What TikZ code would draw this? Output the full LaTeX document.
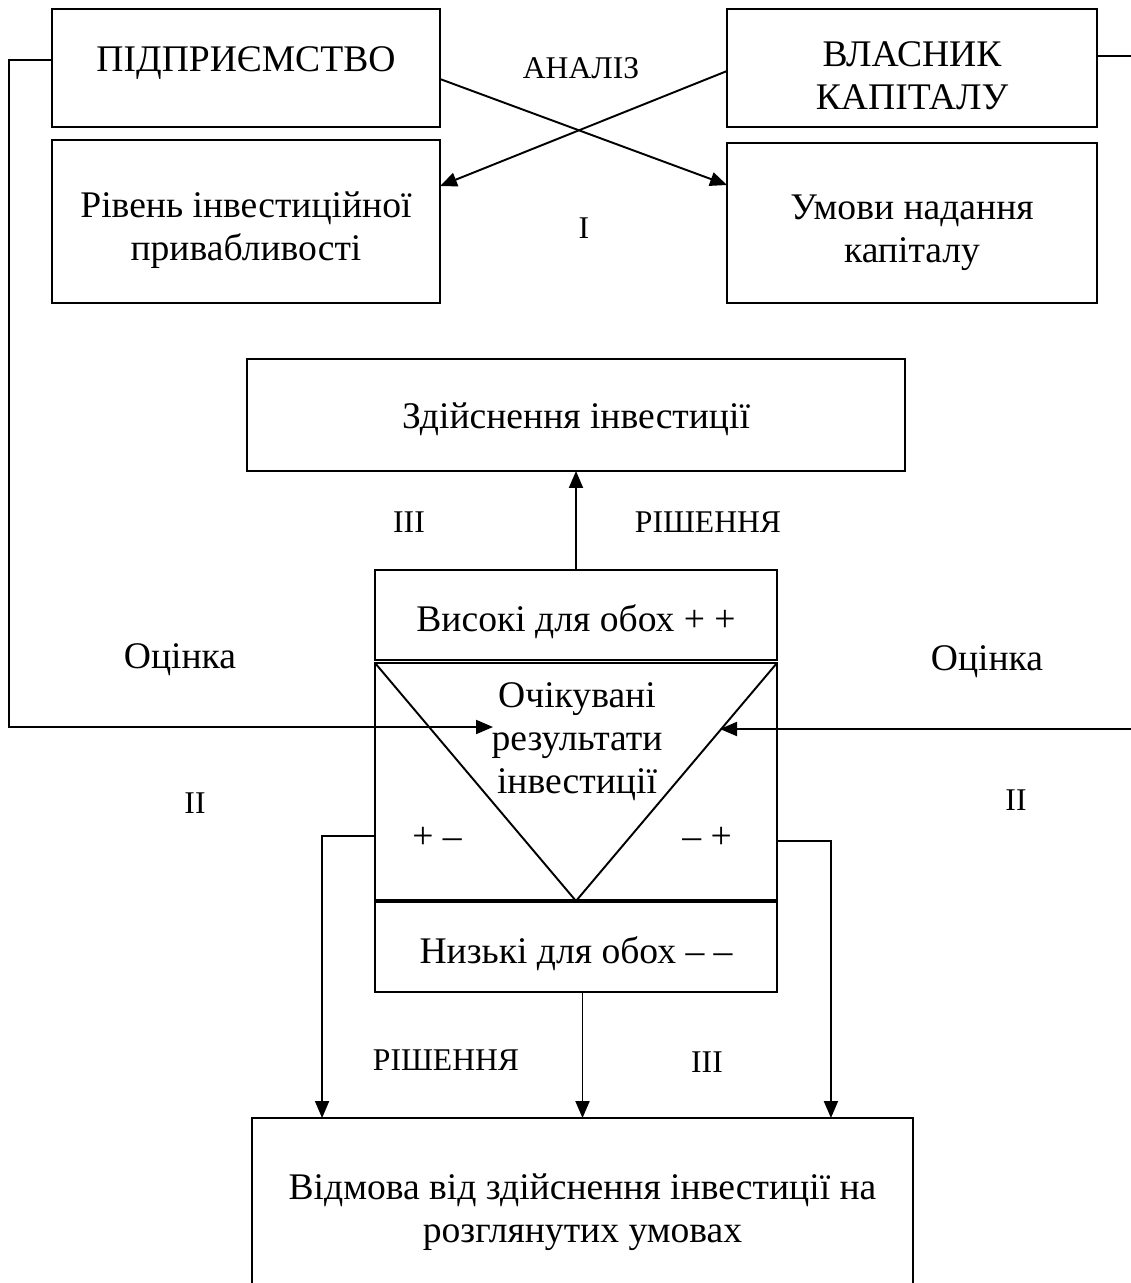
\documentclass[tikz,border=0pt]{standalone}
\usepackage{fontspec}
\setmainfont{Liberation Serif}
\usetikzlibrary{positioning, arrows.meta, calc}

\begin{document}
\begin{tikzpicture}[x=0.02cm,y=-0.02cm,>={Triangle[length=0.34cm,width=0.28cm]},line width=1.1pt]
\tikzstyle{box}=[rectangle,draw,inner sep=0pt,outer sep=0pt]
\tikzstyle{big}=[inner sep=0pt,align=center,font=\fontsize{21.4}{24.5}\selectfont]
\tikzstyle{tag}=[inner sep=0pt,font=\fontsize{18}{21}\selectfont]

\useasboundingbox (0,0) rectangle (1131,1283);
\clip (0,0) rectangle (1131,1283);

%--- stage I boxes ---
\node[box, minimum width=7.76cm, minimum height=2.36cm,
  label={[big,yshift=0.1cm]center:ПІДПРИЄМСТВО}] (firm) at (246,68) {};
\node[box, minimum width=7.4cm, minimum height=2.36cm,
  label={[big,yshift=-0.16cm]center:ВЛАСНИК\\КАПІТАЛУ}] (owner) at (912,68) {};
\node[box, minimum width=7.76cm, minimum height=3.26cm,
  label={[big,yshift=-0.18cm]center:Рівень інвестиційної\\привабливості}] (level) at (246,221.5) {};
\node[box, minimum width=7.4cm, minimum height=3.2cm,
  label={[big,yshift=-0.2cm]center:Умови надання\\капіталу}] (terms) at (912,223) {};

%--- stage II / III boxes ---
\node[box, minimum width=13.16cm, minimum height=2.24cm,
  label={[big,yshift=-0.08cm]center:Здійснення інвестиції}] (invest) at (576,415) {};
\node[box, minimum width=8.04cm, minimum height=1.8cm,
  label={[big,yshift=-0.14cm]center:Високі для обох + +}] (high) at (576,615) {};
\node[box, minimum width=8.04cm, minimum height=4.76cm] (mid) at (576,782) {};
\node[box, minimum width=8.04cm, minimum height=1.82cm,
  label={[big,yshift=-0.14cm]center:Низькі для обох – –}] (low) at (576,946.5) {};
\node[box, minimum width=13.22cm, minimum height=3.6cm,
  label={[big,yshift=-0.08cm]center:Відмова від здійснення інвестиції на\\розглянутих умовах}] (refuse) at (582.5,1208) {};
\draw[line width=2pt] (low.north west) -- (low.north east);

%--- triangle inside ---
\draw (mid.north west) -- (mid.south) -- (mid.north east);
\node[big] (expect) at (577,742) {Очікувані\\результати\\інвестиції};
\node[big] (pm) at (437,838) {+ –};
\node[big] (mp) at (707,838) {– +};

%--- labels ---
\node[tag] (analysis) at (581,68) {АНАЛІЗ};
\node[tag] (one) at (584,228) {I};
\node[tag] (threeup) at (409,522) {III};
\node[tag] (decisionup) at (708,522) {РІШЕННЯ};
\node[big] (evalleft) at (180,660) {Оцінка};
\node[big] (evalright) at (987,662) {Оцінка};
\node[tag] (twoleft) at (195,803) {II};
\node[tag] (tworight) at (1016,800) {II};
\node[tag] (decisiondown) at (446,1060) {РІШЕННЯ};
\node[tag] (threedown) at (707,1062) {III};

%--- coordinates ---
\coordinate (leftrail) at (9,727);
\coordinate (lefttip) at (493,727);
\coordinate (rightrail) at (1136,729);
\coordinate (righttip) at (720,729);

%--- analysis arrows ---
\draw[->] ([yshift=-0.22cm]firm.east) -- ([yshift=0.76cm]terms.west);
\draw[->] ([yshift=-0.06cm]owner.west) -- ([yshift=0.71cm]level.east);

%--- evaluation ---
\draw[->] ([yshift=0.16cm]firm.west) -| (leftrail) -- (lefttip);
\draw[->] ([yshift=0.24cm]owner.east) -| (rightrail) -- (righttip);

%--- decisions ---
\draw[->] (high.north) -- (high.north |- invest.south);
\draw[->] ([yshift=-1.08cm]mid.west) -| ($(refuse.north west)+(70,0)$);
\draw[->] ([yshift=-1.18cm]mid.east) -| ($(refuse.north east)+(-82,0)$);
\draw[->] (refuse.north |- low.south) -- (refuse.north);

\end{tikzpicture}
\end{document}
